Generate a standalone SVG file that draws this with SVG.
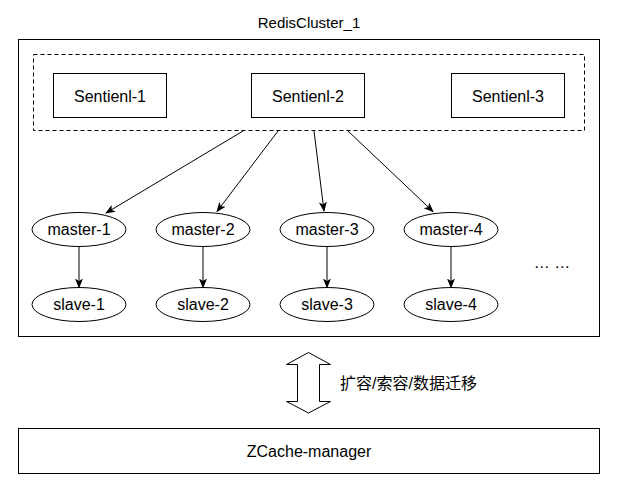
<svg xmlns="http://www.w3.org/2000/svg" width="619" height="488" viewBox="0 0 619 488">
<defs>
<style>
.t{font-family:"Liberation Sans",Arial,"Noto Sans CJK SC",sans-serif;font-size:16px;fill:#000;text-anchor:middle;dominant-baseline:central}
.b{fill:#fff;stroke:#000;stroke-width:1}
.c{fill:none;stroke:#000;stroke-width:1}
</style>
<marker id="ah" viewBox="0 0 10 10" refX="9" refY="5" markerWidth="10" markerHeight="10" markerUnits="userSpaceOnUse" orient="auto">
<path d="M0,1 L10,5 L0,9 L2.5,5 Z" fill="#000"/>
</marker>
</defs>
<rect width="619" height="488" fill="#fff"/>
<g id="cluster">
<text class="t" x="309" y="22" style="font-size:15px">RedisCluster_1</text>
<rect class="b" x="18.5" y="39.5" width="581" height="297"/>
<rect x="33.5" y="54.5" width="551" height="76" fill="none" stroke="#000" stroke-dasharray="4,3"/>
</g>
<g id="sentinel-1"><rect class="b" x="53.5" y="73.5" width="113" height="44"/><text class="t" x="110" y="96">Sentienl-1</text></g>
<g id="sentinel-2"><rect class="b" x="251.5" y="73.5" width="113" height="44"/><text class="t" x="308" y="96">Sentienl-2</text></g>
<g id="sentinel-3"><rect class="b" x="451.5" y="73.5" width="113" height="44"/><text class="t" x="508" y="96">Sentienl-3</text></g>
<g id="master-1"><ellipse class="b" cx="79" cy="229.5" rx="47" ry="17"/><text class="t" x="79" y="229.5">master-1</text></g>
<g id="master-2"><ellipse class="b" cx="203" cy="229.5" rx="47" ry="17"/><text class="t" x="203" y="229.5">master-2</text></g>
<g id="master-3"><ellipse class="b" cx="327" cy="229.5" rx="47" ry="17"/><text class="t" x="327" y="229.5">master-3</text></g>
<g id="master-4"><ellipse class="b" cx="451" cy="229.5" rx="47" ry="17"/><text class="t" x="451" y="229.5">master-4</text></g>
<g id="slave-1"><ellipse class="b" cx="79" cy="304.5" rx="47" ry="17"/><text class="t" x="79" y="304.5">slave-1</text></g>
<g id="slave-2"><ellipse class="b" cx="203" cy="304.5" rx="47" ry="17"/><text class="t" x="203" y="304.5">slave-2</text></g>
<g id="slave-3"><ellipse class="b" cx="327" cy="304.5" rx="47" ry="17"/><text class="t" x="327" y="304.5">slave-3</text></g>
<g id="slave-4"><ellipse class="b" cx="451" cy="304.5" rx="47" ry="17"/><text class="t" x="451" y="304.5">slave-4</text></g>
<g id="more"><text class="t" x="552" y="262">… …</text></g>
<g id="connectors">
<line class="c" x1="243" y1="131" x2="106" y2="213" marker-end="url(#ah)"/>
<line class="c" x1="278" y1="131" x2="217" y2="211.5" marker-end="url(#ah)"/>
<line class="c" x1="314" y1="131" x2="324" y2="211" marker-end="url(#ah)"/>
<line class="c" x1="348" y1="131" x2="433" y2="211.5" marker-end="url(#ah)"/>
<line class="c" x1="79" y1="246.5" x2="79" y2="287.5" marker-end="url(#ah)"/>
<line class="c" x1="203" y1="246.5" x2="203" y2="287.5" marker-end="url(#ah)"/>
<line class="c" x1="327" y1="246.5" x2="327" y2="287.5" marker-end="url(#ah)"/>
<line class="c" x1="451" y1="246.5" x2="451" y2="287.5" marker-end="url(#ah)"/>
<path class="b" d="M308.5,352.5 L330.5,364.5 L319.5,364.5 L319.5,401.5 L330.5,401.5 L308.5,413 L286.5,401.5 L297.5,401.5 L297.5,364.5 L286.5,364.5 Z"/>
<text class="t" x="340" y="383" style="text-anchor:start">扩容/索容/数据迁移</text>
</g>
<g id="zcache-manager"><rect class="b" x="18.5" y="428.5" width="581" height="45"/><text class="t" x="309" y="451">ZCache-manager</text></g>
</svg>
